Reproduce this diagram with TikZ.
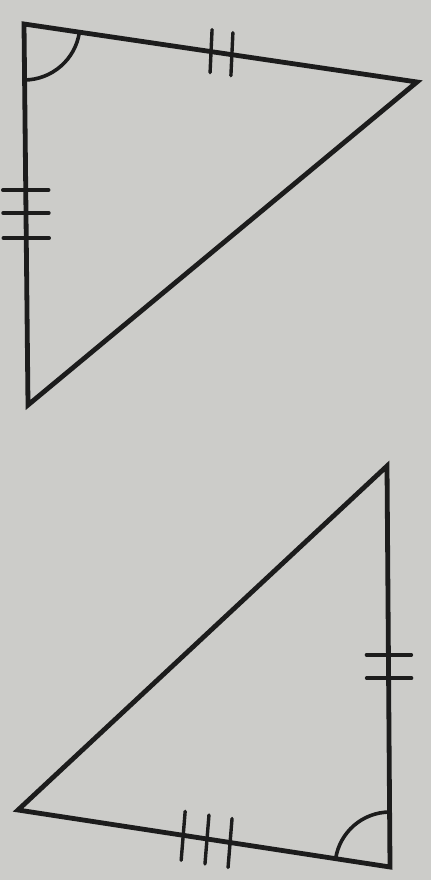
\documentclass[tikz,border=0pt]{standalone}
\usetikzlibrary{calc}
\definecolor{paper}{RGB}{204,204,201}
\definecolor{ink}{RGB}{28,28,28}
\tikzset{
  side/.style={draw=ink, line width=4.8pt, line join=miter, line cap=round},
  tick/.style={draw=ink, line width=3.4pt, line cap=round},
  anglearc/.style={draw=ink, line width=3.6pt}
}
\begin{document}
\begin{tikzpicture}[x=1pt,y=-1pt]
\fill[paper] (0,0) rectangle (431,880);
\useasboundingbox (0,0) rectangle (431,880);
% top triangle
\coordinate (A) at (24,24);
\coordinate (B) at (417,82);
\coordinate (C) at (28,405);
\draw[side] (A) -- (B) -- (C) -- cycle;
\draw[anglearc] (A) ++(8.4:56) arc[start angle=8.4, end angle=89.4, radius=56];
\foreach \t in {0.476,0.529}{
  \draw[tick] ($(A)!\t!(B)+(1,-22)$) -- ($(A)!\t!(B)+(-1,21)$);
}
\foreach \t in {0.436,0.496,0.562}{
  \draw[tick] ($(A)!\t!(C)+(-23,0)$) -- ($(A)!\t!(C)+(23,0)$);
}
% bottom triangle
\coordinate (D) at (387,466);
\coordinate (E) at (18,810);
\coordinate (F) at (390,867);
\draw[side] (D) -- (E) -- (F) -- cycle;
\draw[anglearc] (F) ++(188.7:55) arc[start angle=188.7, end angle=269.6, radius=55];
\foreach \t in {0.471,0.529}{
  \draw[tick] ($(D)!\t!(F)+(-22,0)$) -- ($(D)!\t!(F)+(23,0)$);
}
\foreach \t in {0.444,0.508,0.570}{
  \draw[tick] ($(E)!\t!(F)+(2,-24)$) -- ($(E)!\t!(F)+(-2,25)$);
}
\end{tikzpicture}
\end{document}
